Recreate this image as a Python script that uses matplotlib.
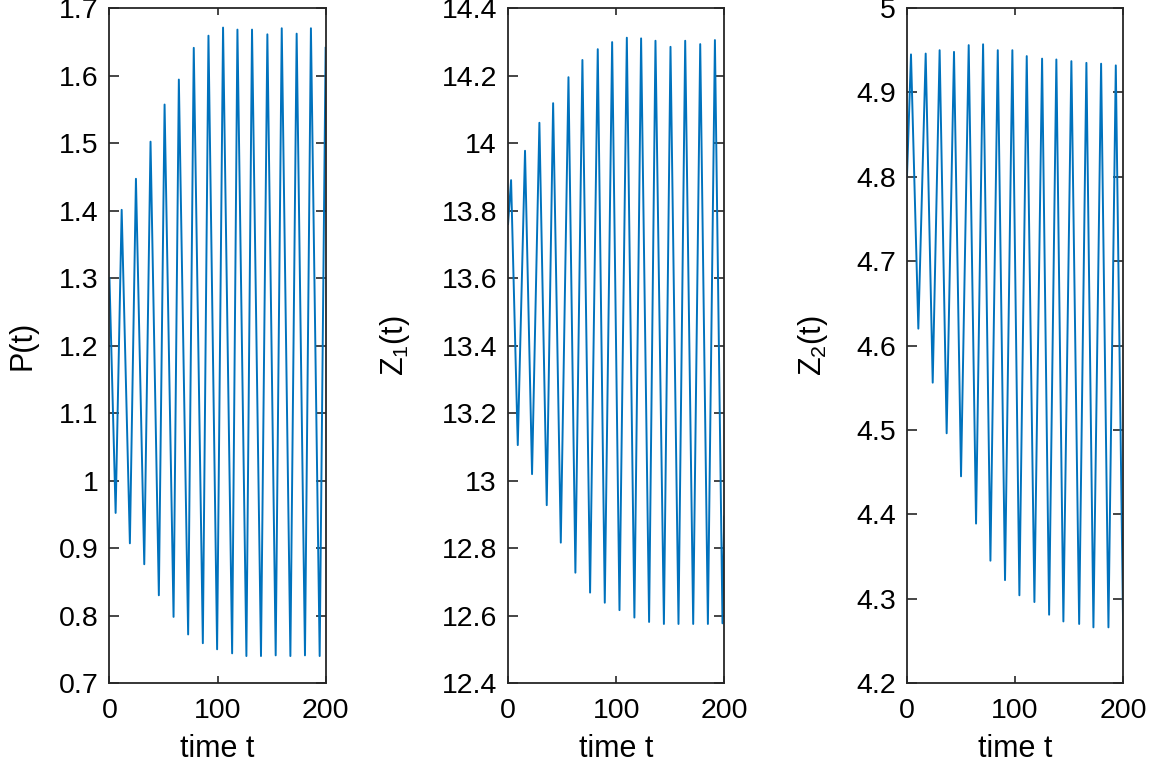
import matplotlib.pyplot as plt
import numpy as np

plt.rcParams['font.family'] = ['Liberation Sans', 'DejaVu Sans']
plt.rcParams['mathtext.default'] = 'regular'

# extrema (time, value), joined by straight lines
t_P = [0, 5.7, 11.3, 18.9, 24.5, 32.2, 38.0, 45.7, 51.0, 59.3, 64.2, 72.8, 78.0,
       86.4, 91.6, 99.6, 105.1, 113.5, 118.4, 126.7, 131.9, 140.2, 146.1, 153.8,
       159.4, 167.4, 173.2, 180.9, 186.4, 194.5, 200]
P = [1.30, 0.952, 1.401, 0.907, 1.447, 0.876, 1.502, 0.830, 1.557, 0.798, 1.594,
     0.772, 1.641, 0.759, 1.659, 0.750, 1.671, 0.744, 1.668, 0.740, 1.668, 0.740,
     1.661, 0.741, 1.670, 0.740, 1.662, 0.741, 1.670, 0.740, 1.641]

t_Z1 = [0, 2.8, 9.0, 15.7, 22.2, 29.0, 35.8, 41.7, 48.8, 55.9, 62.3, 68.8, 75.9,
        83.0, 89.5, 96.3, 103.1, 109.9, 116.9, 123.1, 130.5, 136.4, 144.2, 150.3,
        157.7, 163.9, 171.3, 177.8, 184.9, 191.4, 198.4, 200]
Z1 = [13.76, 13.89, 13.105, 13.977, 13.019, 14.060, 12.927, 14.118, 12.816,
      14.195, 12.727, 14.246, 12.668, 14.278, 12.638, 14.299, 12.616, 14.312,
      12.594, 14.310, 12.581, 14.303, 12.575, 14.285, 12.575, 14.303, 12.575,
      14.293, 12.575, 14.305, 12.577, 12.893]

t_Z2 = [0, 3.7, 10.5, 17.3, 23.8, 30.2, 36.7, 43.5, 50.0, 57.1, 63.9, 70.4, 77.2,
        84.0, 90.7, 97.5, 104.0, 110.8, 117.9, 125.0, 131.5, 138.2, 144.7, 152.1,
        159.3, 166.0, 172.5, 179.6, 186.4, 193.2, 200]
Z2 = [4.80, 4.945, 4.620, 4.946, 4.556, 4.950, 4.496, 4.948, 4.445, 4.956, 4.389,
      4.957, 4.345, 4.950, 4.322, 4.950, 4.304, 4.943, 4.296, 4.940, 4.281, 4.939,
      4.273, 4.937, 4.270, 4.935, 4.266, 4.934, 4.266, 4.932, 4.264]

panels = [
    (t_P, P, 'P(t)', (0.7, 1.7), np.arange(0.7, 1.71, 0.1), -0.335),
    (t_Z1, Z1, 'Z$_1$(t)', (12.4, 14.4), np.arange(12.4, 14.41, 0.2), -0.444),
    (t_Z2, Z2, 'Z$_2$(t)', (4.2, 5.0), np.arange(4.2, 5.01, 0.1), -0.356),
]
lefts = [0.0951, 0.4414, 0.7880]

fig = plt.figure(figsize=(11.51, 7.63), dpi=100)
for left, (t, v, lab, yl, yt, lx) in zip(lefts, panels):
    ax = fig.add_axes([left, 0.1048, 0.1878, 0.8847])
    ax.plot(t, v, color='#0072BD', lw=1.4)
    ax.set_xlim(0, 200)
    ax.set_ylim(*yl)
    ax.set_xticks([0, 100, 200])
    ax.set_yticks(yt)
    ax.set_yticklabels([('%g' % round(y, 1)) for y in yt])
    ax.tick_params(direction='in', top=True, right=True, labelsize=20.5,
                   width=1.2, color='#262626')
    ax.tick_params(axis='y', length=7, pad=8)
    ax.tick_params(axis='x', length=5, pad=11)
    for s in ax.spines.values():
        s.set_linewidth(1.3)
        s.set_color('#262626')
    ax.set_xlabel('time t', fontsize=22)
    ax.xaxis.set_label_coords(0.5, -0.076)
    ax.set_ylabel(lab, fontsize=22)
    ax.yaxis.set_label_coords(lx, 0.5)

fig.savefig('out.png', dpi=100)
